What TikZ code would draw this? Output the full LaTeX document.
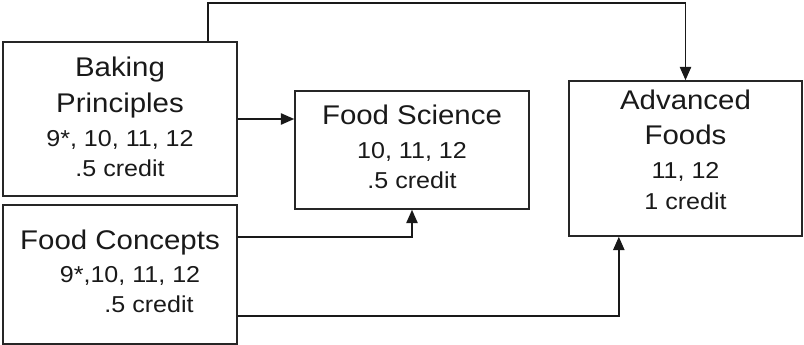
\documentclass[tikz,border=0pt]{standalone}
\usepackage{fontspec}
\setmainfont[FakeStretch=1.09]{Liberation Sans}
\usetikzlibrary{arrows.meta}

\tikzset{
  course/.style={draw=black!85, line width=1.2pt, rectangle, minimum width=175.5pt, inner sep=0pt},
  ttl/.style={anchor=base, text=black!90, font=\fontsize{20.25}{24}\selectfont},
  sub/.style={anchor=base, text=black!90, font=\fontsize{17.25}{21}\selectfont},
  link/.style={draw=black!90, line width=1.1pt, -{Triangle[length=10pt,width=8.5pt]}}
}

\begin{document}
\begin{tikzpicture}[x=0.75pt,y=-0.75pt]
\useasboundingbox (0,0) rectangle (804,345);

% course boxes
\node[course, minimum height=115.5pt] (bake) at (120,119) {};
\node[course, minimum height=104.25pt] (conc) at (120,274.5) {};
\node[course, minimum height=88.5pt] (sci) at (412,150) {};
\node[course, minimum width=174.75pt, minimum height=116.25pt] (adv) at (685.5,158.5) {};

% texts
\node[ttl] (bakeT1) at (120,76.7) {Baking};
\node[ttl] (bakeT2) at (120,112.7) {Principles};
\node[sub] (bakeG) at (120,146.7) {9*, 10, 11, 12};
\node[sub] (bakeC) at (120,176.7) {.5 credit};

\node[ttl] (concT) at (120,250) {Food Concepts};
\node[sub] (concG) at (130,283) {9*,10, 11, 12};
\node[sub] (concC) at (149,313) {.5 credit};

\node[ttl] (sciT) at (412,125) {Food Science};
\node[sub] (sciG) at (412,159) {10, 11, 12};
\node[sub] (sciC) at (412,188.5) {.5 credit};

\node[ttl] (advT1) at (685.5,110) {Advanced};
\node[ttl] (advT2) at (685.5,145) {Foods};
\node[sub] (advG) at (685.5,179) {11, 12};
\node[sub] (advC) at (685.5,210) {1 credit};

% prerequisites
\coordinate (top) at (0,3);
\draw[link] ([xshift=-22.5pt]bake.north east) |- (top -| adv.north) -- (adv.north);
\draw[link] (bake.east) -- (bake.east -| sci.west);
\draw[link] ([yshift=28pt]conc.east) -| (sci.south);
\draw[link] ([yshift=-31pt]conc.east) -| ([xshift=-50pt]adv.south);
\end{tikzpicture}
\end{document}
